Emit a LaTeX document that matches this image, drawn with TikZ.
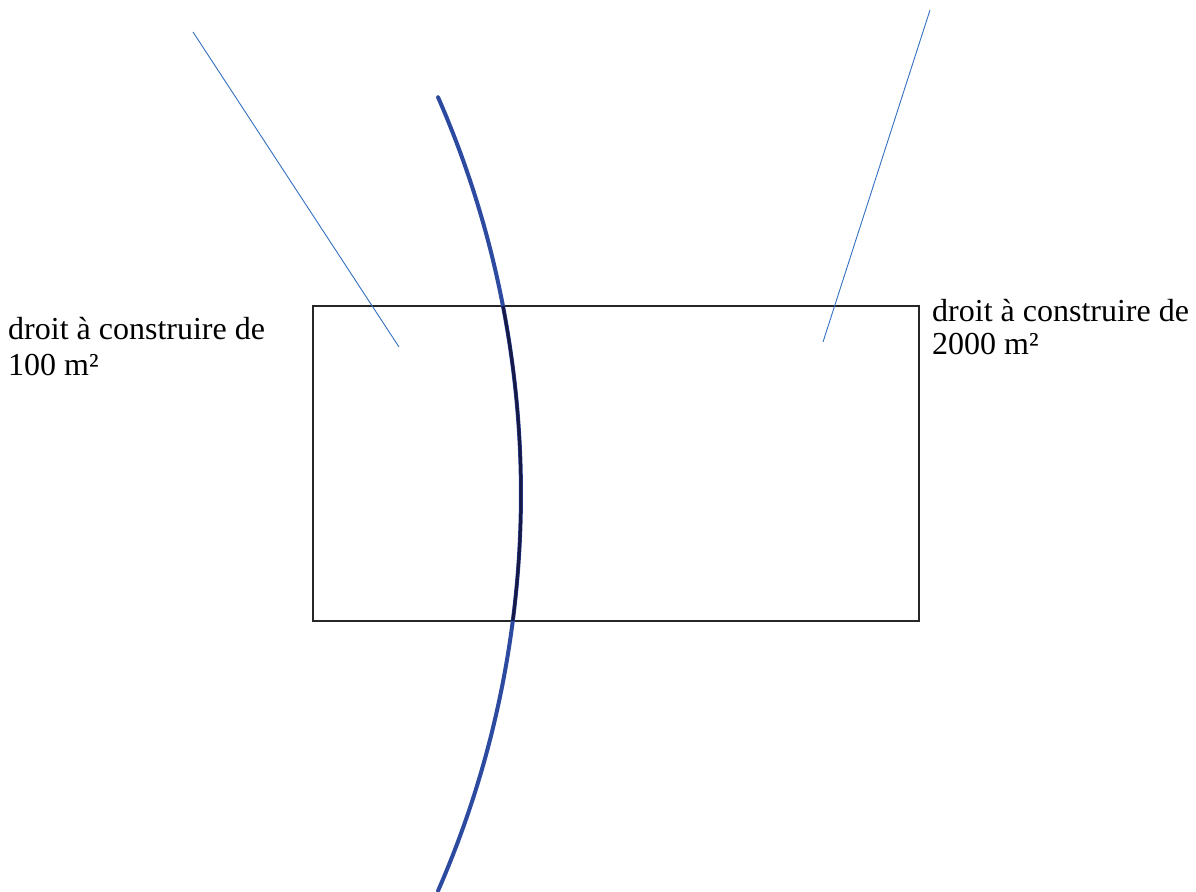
\documentclass[tikz,border=0pt]{standalone}
\usepackage{fontspec}
\setmainfont{Liberation Serif}
\definecolor{curveblue}{RGB}{44,74,160}
\definecolor{curvenavy}{RGB}{22,24,70}
\definecolor{leaderblue}{RGB}{52,112,192}
\definecolor{framegray}{RGB}{38,38,38}
\tikzset{
  lbl/.style={anchor=base west, inner sep=0pt, align=left, font=\fontsize{32}{35}\selectfont},
  leader/.style={leaderblue, line width=0.9pt},
  frame/.style={framegray, line width=2pt},
}
\begin{document}
\begin{tikzpicture}[x=1pt,y=1pt]
\useasboundingbox (0,0) rectangle (1196,891);
% parcel
\draw[frame] (313,270) rectangle (919,585);
% boundary curve
\draw[curveblue, line width=4pt, line cap=round] (-470,397) ++(23.6:991pt) arc[start angle=23.6, end angle=-23.6, radius=991pt];
\draw[curvenavy, line width=3pt] (-470,397) ++(10.94:991pt) arc[start angle=10.94, end angle=-7.36, radius=991pt];
% labels
\node[lbl] (l1) at (8,551) {droit à construire de};
\node[lbl] (l2) at (8,515) {100 m²};
\node[lbl] (r1) at (932,569) {droit à construire de};
\node[lbl] (r2) at (932,536) {2000 m²};
% leaders
\coordinate (la) at (193,859);
\coordinate (lb) at (399,544);
\coordinate (ra) at (930,881);
\coordinate (rb) at (823,549);
\draw[leader] (la) -- (lb);
\draw[leader] (ra) -- (rb);
\end{tikzpicture}
\end{document}
